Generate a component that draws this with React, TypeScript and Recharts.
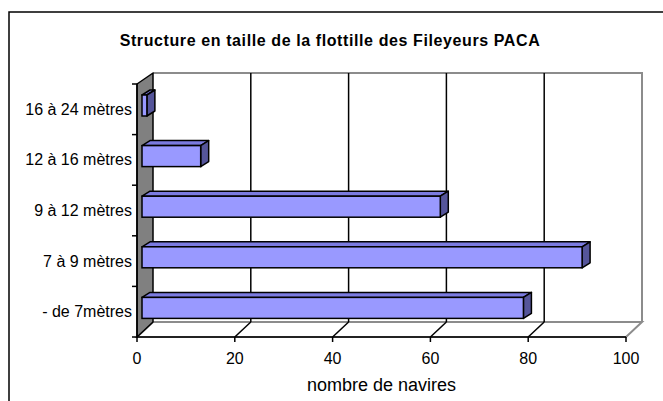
import { BarChart, Bar, XAxis, YAxis, CartesianGrid } from 'recharts';

const categories = ['16 à 24 mètres', '12 à 16 mètres', '9 à 12 mètres', '7 à 9 mètres', '- de 7mètres'];
const vessels = [1, 12, 61, 90, 78];
const xTicks = [0, 20, 40, 60, 80, 100];

const data = categories.map((label, i) => ({ label, count: vessels[i] }));

// layout of the fake 3D box (front plane = recharts plot area)
const W = 663;
const H = 401;
const PLOT_LEFT = 137;
const PLOT_RIGHT = 626;
const PLOT_TOP = 84;
const PLOT_BOTTOM = 337;
const DEPTH_X = 16;
const BACK_LEFT = PLOT_LEFT + DEPTH_X;
const BACK_RIGHT = PLOT_RIGHT + DEPTH_X;
const BACK_TOP = 73;
const BACK_BOTTOM = 322;
const BAND = (PLOT_BOTTOM - PLOT_TOP) / categories.length;
const Y_AXIS_W = 120;
const FONT = '"Liberation Sans", Arial, sans-serif';

// bar sits a bit behind the front plane
const BAR_SHIFT_X = 5;
const BAR_SHIFT_Y = 4;
const BAR_DX = 8;
const BAR_DY = 5;

function Bar3D(props: any) {
  const { x, y, width, height } = props;
  const fx = x + BAR_SHIFT_X;
  const fy = y - BAR_SHIFT_Y;
  const sw = 1.5;
  return (
    <g>
      <polygon
        points={`${fx},${fy} ${fx + width},${fy} ${fx + width + BAR_DX},${fy - BAR_DY} ${fx + BAR_DX},${fy - BAR_DY}`}
        fill="#7b7be0"
        stroke="#000"
        strokeWidth={sw}
        strokeLinejoin="round"
      />
      <polygon
        points={`${fx + width},${fy} ${fx + width + BAR_DX},${fy - BAR_DY} ${fx + width + BAR_DX},${fy + height - BAR_DY} ${fx + width},${fy + height}`}
        fill="#55559a"
        stroke="#000"
        strokeWidth={sw}
        strokeLinejoin="round"
      />
      <rect x={fx} y={fy} width={width} height={height} fill="#9999ff" stroke="#000" strokeWidth={sw} />
    </g>
  );
}

function CategoryTick(props: any) {
  const { y, payload, index } = props;
  const last = index === categories.length - 1;
  return (
    <g>
      <line x1={PLOT_LEFT - 5} x2={PLOT_LEFT} y1={y - BAND / 2} y2={y - BAND / 2} stroke="#000" strokeWidth={1.5} />
      {last && (
        <line x1={PLOT_LEFT - 5} x2={PLOT_LEFT} y1={y + BAND / 2} y2={y + BAND / 2} stroke="#000" strokeWidth={1.5} />
      )}
      <text x={PLOT_LEFT - 5} y={y} textAnchor="end" dominantBaseline="central" fontSize={16} fontFamily={FONT} fill="#000">
        {payload.value}
      </text>
    </g>
  );
}

function ValueTick(props: any) {
  const { x, payload, index } = props;
  const edge = index === 0 || index === xTicks.length - 1;
  return (
    <g>
      <line x1={x} x2={x} y1={PLOT_BOTTOM} y2={PLOT_BOTTOM + 5} stroke="#000" strokeWidth={1.5} />
      {!edge && (
        <line x1={x} y1={PLOT_BOTTOM} x2={x + DEPTH_X} y2={BACK_BOTTOM} stroke="#000" strokeWidth={1.5} />
      )}
      <text x={x} y={PLOT_BOTTOM + 21} textAnchor="middle" dominantBaseline="central" fontSize={16} fontFamily={FONT} fill="#000">
        {payload.value}
      </text>
    </g>
  );
}

export default function App() {
  return (
    <div style={{ position: 'absolute', left: 0, top: 0, width: W, height: H, background: '#fff', overflow: 'hidden' }}>
      <svg width={W} height={H} style={{ position: 'absolute', left: 0, top: 0 }}>
        <rect x={9} y={12} width={700} height={420} fill="#fff" stroke="#000" strokeWidth={1.5} />
        <text x={330} y={40} textAnchor="middle" dominantBaseline="central" fontSize={16} letterSpacing={0.6} fontWeight="bold" fontFamily={FONT}>
          Structure en taille de la flottille des Fileyeurs  PACA
        </text>
        {/* floor */}
        <polygon
          points={`${PLOT_LEFT},${PLOT_BOTTOM} ${PLOT_RIGHT},${PLOT_BOTTOM} ${BACK_RIGHT},${BACK_BOTTOM} ${BACK_LEFT},${BACK_BOTTOM}`}
          fill="#fff"
          stroke="#8c8c8c"
          strokeWidth={2}
        />
        {/* back wall edges */}
        <polyline
          points={`${BACK_LEFT},${BACK_TOP} ${BACK_RIGHT},${BACK_TOP} ${BACK_RIGHT},${BACK_BOTTOM}`}
          fill="none"
          stroke="#8c8c8c"
          strokeWidth={2}
        />
        {/* left wall */}
        <polygon
          points={`${PLOT_LEFT},${PLOT_TOP} ${BACK_LEFT},${BACK_TOP} ${BACK_LEFT},${BACK_BOTTOM} ${PLOT_LEFT},${PLOT_BOTTOM}`}
          fill="#808080"
          stroke="#000"
          strokeWidth={1.5}
          strokeLinejoin="round"
        />
      </svg>
      <div style={{ position: 'absolute', left: 0, top: 0 }}>
        <BarChart
          width={W}
          height={H}
          data={data}
          layout="vertical"
          margin={{ top: PLOT_TOP, right: W - PLOT_RIGHT, bottom: 4, left: PLOT_LEFT - Y_AXIS_W }}
        >
          <CartesianGrid
            x={BACK_LEFT}
            y={BACK_TOP}
            width={BACK_RIGHT - BACK_LEFT}
            height={BACK_BOTTOM - BACK_TOP}
            horizontal={false}
            stroke="#000"
            strokeWidth={1.5}
            verticalCoordinatesGenerator={({ xAxis }: any) =>
              xTicks.slice(1, -1).map((t) =>
                typeof xAxis?.scale === 'function'
                  ? xAxis.scale(t) + DEPTH_X
                  : PLOT_LEFT + DEPTH_X + (t / 100) * (PLOT_RIGHT - PLOT_LEFT)
              )
            }
          />
          <XAxis
            type="number"
            domain={[0, 100]}
            ticks={xTicks}
            height={H - 4 - PLOT_BOTTOM}
            axisLine={{ stroke: '#000', strokeWidth: 1.5 }}
            tickLine={false}
            tick={<ValueTick />}
            interval={0}
            label={{ value: 'nombre de navires', position: 'insideBottom', offset: 6, fontSize: 18, fontFamily: FONT, fill: '#000' }}
          />
          <YAxis
            type="category"
            dataKey="label"
            width={Y_AXIS_W}
            axisLine={{ stroke: '#000', strokeWidth: 1.5 }}
            tickLine={false}
            tick={<CategoryTick />}
            interval={0}
          />
          <Bar dataKey="count" barSize={21} fill="#9999ff" shape={<Bar3D />} isAnimationActive={false} />
        </BarChart>
      </div>
    </div>
  );
}
